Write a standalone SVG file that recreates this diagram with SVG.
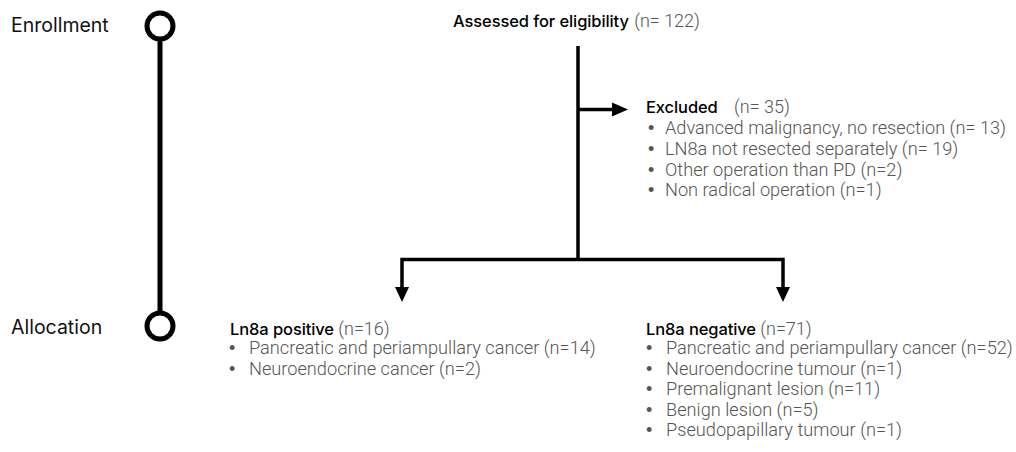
<svg xmlns="http://www.w3.org/2000/svg" width="1016" height="452" viewBox="0 0 1016 452">
<style>
.stage{font-family:Inter,"Liberation Sans",sans-serif;font-size:19.5px;fill:#111}
.head{font-family:Inter,"Liberation Sans",sans-serif;font-size:16.5px;font-weight:500;fill:#000;letter-spacing:-0.1px}
.n{font-family:Roboto,"Liberation Sans",sans-serif;font-size:18px;font-weight:300;fill:#555;letter-spacing:0}
.item{font-family:Roboto,"Liberation Sans",sans-serif;font-size:18.2px;font-weight:300;fill:#555}
.bul{font-family:"Liberation Sans",sans-serif;font-size:18px;fill:#555}
.ln{stroke:#000;stroke-width:3.5;fill:none}
</style>
<rect width="1016" height="452" fill="#fff"/>
<g id="timeline">
<line x1="160" y1="38" x2="160" y2="314" stroke="#000" stroke-width="5"/>
<circle cx="160" cy="26" r="13" fill="#fff" stroke="#000" stroke-width="5"/>
<circle cx="160" cy="326" r="13" fill="#fff" stroke="#000" stroke-width="5"/>
<text class="stage" x="11" y="32">Enrollment</text>
<text class="stage" x="11" y="334">Allocation</text>
</g>
<g id="connectors">
<line class="ln" x1="578" y1="46" x2="578" y2="261"/>
<line class="ln" x1="578" y1="109.5" x2="614" y2="109.5"/>
<path d="M612,102.5 L628,109.5 L612,116.5 Z" fill="#000"/>
<polyline class="ln" points="402,288 402,259.5 783,259.5 783,288"/>
<path d="M395,287 L409,287 L402,302 Z" fill="#000"/>
<path d="M776,287 L790,287 L783,302 Z" fill="#000"/>
</g>
<g id="assessed">
<text class="head" x="453" y="27">Assessed for eligibility <tspan class="n" dx="1">(n= 122)</tspan></text>
</g>
<g id="excluded">
<text class="head" x="646" y="112.5">Excluded <tspan class="n" dx="12">(n= 35)</tspan></text>
<g class="item">
<text class="bul" x="648" y="134.3">•</text><text x="665" y="134.3">Advanced malignancy, no resection (n= 13)</text>
<text class="bul" x="648" y="154.9">•</text><text x="665" y="154.9">LN8a not resected separately (n= 19)</text>
<text class="bul" x="648" y="175.5">•</text><text x="665" y="175.5">Other operation than PD (n=2)</text>
<text class="bul" x="648" y="196.1">•</text><text x="665" y="196.1">Non radical operation (n=1)</text>
</g>
</g>
<g id="positive">
<text class="head" x="230" y="335">Ln8a positive <tspan class="n" dx="0">(n=16)</tspan></text>
<g class="item">
<text class="bul" x="229" y="354">•</text><text x="249" y="354">Pancreatic and periampullary cancer (n=14)</text>
<text class="bul" x="229" y="374.6">•</text><text x="249" y="374.6">Neuroendocrine cancer (n=2)</text>
</g>
</g>
<g id="negative">
<text class="head" x="646" y="335">Ln8a negative <tspan class="n" dx="0">(n=71)</tspan></text>
<g class="item">
<text class="bul" x="646" y="354">•</text><text x="666" y="354">Pancreatic and periampullary cancer (n=52)</text>
<text class="bul" x="646" y="374.6">•</text><text x="666" y="374.6">Neuroendocrine tumour (n=1)</text>
<text class="bul" x="646" y="395.2">•</text><text x="666" y="395.2">Premalignant lesion (n=11)</text>
<text class="bul" x="646" y="415.8">•</text><text x="666" y="415.8">Benign lesion (n=5)</text>
<text class="bul" x="646" y="436.4">•</text><text x="666" y="436.4">Pseudopapillary tumour (n=1)</text>
</g>
</g>
</svg>
